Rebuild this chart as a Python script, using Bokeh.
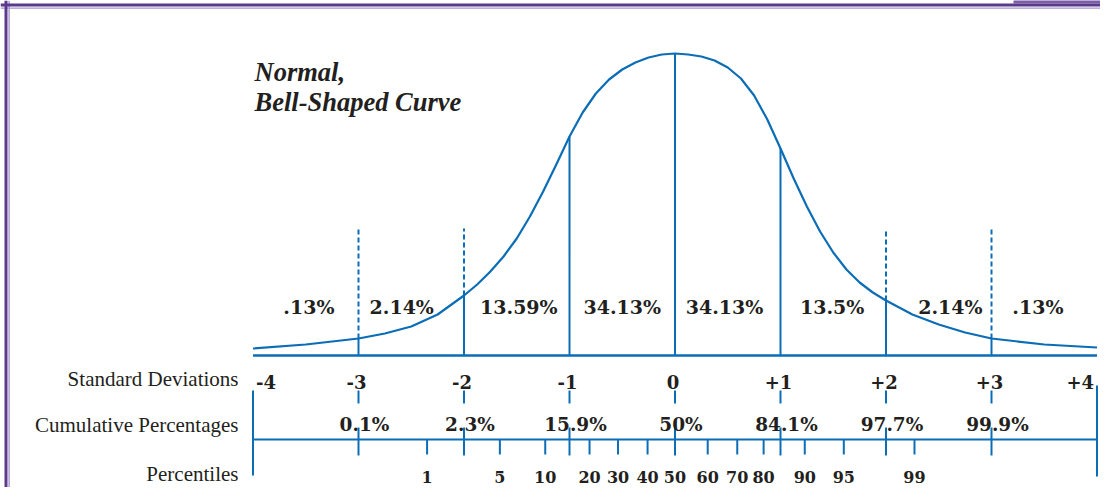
from bokeh.plotting import figure
from bokeh.models import Range1d, Span, ColumnDataSource
from bokeh.core.properties import value
from bokeh.embed import file_html
from bokeh.resources import INLINE

# ---------------- data ----------------
curve_sd = [-4, -3.5, -3, -2.75, -2.5, -2.25, -2, -1.875, -1.75, -1.625, -1.5, -1.375,
            -1.25, -1.125, -1, -0.875, -0.75, -0.625, -0.5, -0.375, -0.25, -0.125, 0,
            0.125, 0.25, 0.375, 0.5, 0.625, 0.75, 0.875, 1, 1.125, 1.25, 1.375, 1.5,
            1.625, 1.75, 1.875, 2, 2.25, 2.5, 2.75, 3, 3.5, 4]
curve_height = [7, 11, 17, 22, 29, 41, 60, 71, 84, 99, 117, 139,
                164, 191, 219, 243, 262, 276, 286, 293, 298, 301, 302,
                301, 299, 295, 288, 277, 260, 236, 207, 177, 149, 124, 103,
                86, 73, 63, 55, 41, 31, 23, 17, 11, 8]
sd_ticks = [-4, -3, -2, -1, 0, 1, 2, 3, 4]
sd_labels = ["-4", "-3", "-2", "-1", "0", "+1", "+2", "+3", "+4"]
dashed_marks = [-3, -2, 2, 3]
area_pos = [-3.47, -2.59, -1.48, -0.5, 0.47, 1.49, 2.61, 3.44]
area_labels = [".13%", "2.14%", "13.59%", "34.13%", "34.13%", "13.5%", "2.14%", ".13%"]
cum_sd = [-3, -2, -1, 0, 1, 2, 3]
cum_labels = ["0.1%", "2.3%", "15.9%", "50%", "84.1%", "97.7%", "99.9%"]
pct_pos = [-2.35, -1.66, -1.23, -0.81, -0.54, -0.26, 0, 0.31, 0.59, 0.84, 1.23, 1.6, 2.27]
pct_labels = ["1", "5", "10", "20", "30", "40", "50", "60", "70", "80", "90", "95", "99"]
row_names = ["Standard Deviations", "Cumulative Percentages", "Percentiles"]
title_lines = ["Normal,", "Bell-Shaped Curve"]

# ---------------- layout / style ----------------
W, H = 1100, 487
PX0, SCALE, BASE = 674.5, 105.5, 355.0   # px of SD 0, px per SD, baseline px
def X(px):
    return (px - PX0) / SCALE
def Y(py):
    return BASE - py

BLUE = "#0b6db6"
INK = "#231f20"
DARK_PURPLE = "#5b3a8c"
MID_PURPLE = "#7a5ea8"
LIGHT_PURPLE = "#a595cf"
NUM_FONT = value("DejaVu Serif")
LAB_FONT = value("Liberation Serif")

p = figure(width=W, height=H, output_backend="svg", toolbar_location=None,
           x_range=Range1d(X(0), X(W)), y_range=Range1d(Y(H), Y(0)),
           x_axis_location=None, y_axis_location=None, min_border=0,
           background_fill_color="white", border_fill_color="white")
p.grid.visible = False
p.outline_line_color = None

# frame decoration (purple double rule at left and top)
p.add_layout(Span(location=X(8.6), dimension="height", line_color=LIGHT_PURPLE, line_width=1.4))
p.add_layout(Span(location=Y(7.6), dimension="width", line_color=LIGHT_PURPLE, line_width=1.4))
p.add_layout(Span(location=X(5.5), dimension="height", line_color=DARK_PURPLE, line_width=3))
p.add_layout(Span(location=Y(4.6), dimension="width", line_color=DARK_PURPLE, line_width=3))
p.quad(left=[X(1013)], right=[X(W + 5)], top=[Y(-2)], bottom=[Y(3)],
       fill_color=MID_PURPLE, line_color=None)

h_at = dict(zip(curve_sd, curve_height))

# bell curve
p.line(curve_sd, curve_height, line_color=BLUE, line_width=2.2, line_join="round")

# solid verticals from curve down to baseline
p.segment(x0=cum_sd, y0=[0] * len(cum_sd), x1=cum_sd, y1=[h_at[s] for s in cum_sd],
          line_color=BLUE, line_width=2)
# dashed verticals above the curve
p.segment(x0=dashed_marks, y0=[h_at[s] for s in dashed_marks], x1=dashed_marks,
          y1=[Y(228)] * len(dashed_marks), line_color=BLUE, line_width=2, line_dash="5 3")

# baseline
p.segment(x0=[sd_ticks[0]], y0=[0], x1=[sd_ticks[-1]], y1=[0], line_color=BLUE, line_width=2.6)

# area labels
p.text(x=area_pos, y=[Y(306)] * len(area_pos), text=area_labels, text_font=NUM_FONT,
       text_font_style="bold", text_font_size="19px", text_color=INK,
       text_align="center", text_baseline="alphabetic")

# standard deviation labels
aligns = ["left"] + ["center"] * (len(sd_ticks) - 2) + ["right"]
offs = [3] + [-2] * (len(sd_ticks) - 2) + [-3]
sd_src = ColumnDataSource(dict(x=sd_ticks, y=[Y(381)] * len(sd_ticks), t=sd_labels, a=aligns, o=offs))
p.text(x="x", y="y", text="t", text_align="a", x_offset="o", source=sd_src, text_font=NUM_FONT,
       text_font_style="bold", text_font_size="18px", text_color=INK,
       text_baseline="alphabetic")

# cumulative percentage ticks and labels
p.segment(x0=cum_sd, y0=[Y(390)] * len(cum_sd), x1=cum_sd, y1=[Y(403)] * len(cum_sd),
          line_color=BLUE, line_width=2)
p.segment(x0=cum_sd, y0=[Y(427)] * len(cum_sd), x1=cum_sd, y1=[Y(455)] * len(cum_sd),
          line_color=BLUE, line_width=2)
p.text(x=cum_sd, y=[Y(424)] * len(cum_sd), text=cum_labels, text_font=NUM_FONT,
       text_font_style="bold", text_font_size="18.5px", text_color=INK,
       text_align="center", text_baseline="alphabetic", x_offset=6)

# percentile scale
p.segment(x0=[sd_ticks[0]], y0=[Y(439)], x1=[sd_ticks[-1]], y1=[Y(439)], line_color=BLUE, line_width=2)
p.segment(x0=[sd_ticks[0], sd_ticks[-1]], y0=[Y(390), Y(385)], x1=[sd_ticks[0], sd_ticks[-1]],
          y1=[Y(475), Y(476)], line_color=BLUE, line_width=2)
p.segment(x0=pct_pos, y0=[Y(439)] * len(pct_pos), x1=pct_pos, y1=[Y(454)] * len(pct_pos),
          line_color=BLUE, line_width=2)
p.text(x=pct_pos, y=[Y(476)] * len(pct_pos), text=pct_labels, text_font=NUM_FONT,
       text_font_style="bold", text_font_size="16px", text_color=INK,
       text_align="center", text_baseline="alphabetic")

# row names
p.text(x=[X(238)] * 3, y=[Y(378), Y(424), Y(473)], text=row_names, text_font=LAB_FONT,
       text_font_size="21px", text_color=INK, text_align="right", text_baseline="alphabetic")

# title
p.text(x=[X(254)] * 2, y=[Y(71), Y(101)], text=title_lines, text_font=LAB_FONT,
       text_font_style="bold italic", text_font_size="26.5px", text_color=INK,
       text_align="left", text_baseline="alphabetic")

open("out.html", "w").write(file_html(p, INLINE))
